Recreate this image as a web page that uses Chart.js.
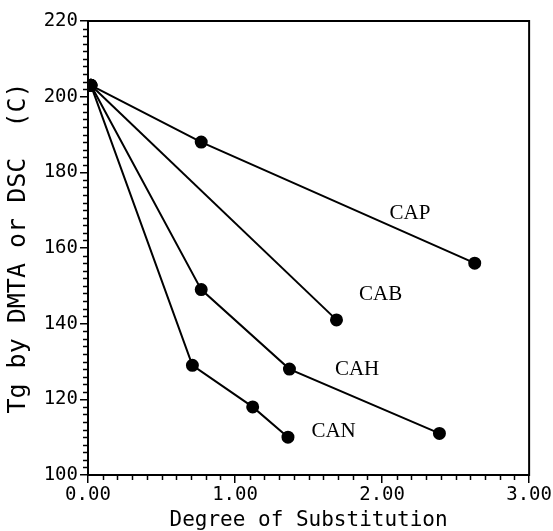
<!DOCTYPE html>
<html lang="en">
<head>
    <meta charset="UTF-8">
    <title>Tg vs Degree of Substitution</title>
    <script src="https://cdn.jsdelivr.net/npm/chart.js"></script>
    <style>
        body { margin: 0; background: #fff; }
        .chart-container { width: 553px; height: 531px; }
    </style>
</head>
<body>
    <div class="chart-container">
        <canvas id="tgChart"></canvas>
    </div>
    <script>
        // degree of substitution / Tg (C) for each ester series
        const capDS = [0.02, 0.77, 2.63];
        const capTg = [203, 188, 156];
        const cabDS = [0.02, 1.69];
        const cabTg = [203, 141];
        const cahDS = [0.02, 0.77, 1.37, 2.39];
        const cahTg = [203, 149, 128, 111];
        const canDS = [0.02, 0.71, 1.12, 1.36];
        const canTg = [203, 129, 118, 110];

        const seriesNames = ['CAP', 'CAB', 'CAH', 'CAN'];
        const labelDS = [2.19, 1.99, 1.83, 1.67];
        const labelTg = [169, 147.6, 128, 111.6];

        const toPoints = (xs, ys) => xs.map((x, i) => ({ x: x, y: ys[i] }));
        const allSeries = [[capDS, capTg], [cabDS, cabTg], [cahDS, cahTg], [canDS, canTg]];

        const datasets = allSeries.map((s, i) => ({
            label: seriesNames[i],
            data: toPoints(s[0], s[1]),
            borderColor: '#000',
            backgroundColor: '#000',
            borderWidth: 2,
            pointRadius: 5.5,
            pointHoverRadius: 5.5,
            showLine: true,
            tension: 0
        }));

        // frame, minor ticks and in-plot series labels
        const extras = {
            id: 'extras',
            afterDraw(chart) {
                const ctx = chart.ctx;
                const a = chart.chartArea;
                const xs = chart.scales.x, ys = chart.scales.y;
                ctx.save();
                ctx.strokeStyle = '#000';
                ctx.lineWidth = 2;
                ctx.strokeRect(a.left, a.top, a.right - a.left, a.bottom - a.top);
                ctx.lineWidth = 1.5;
                ctx.beginPath();
                for (let k = 1; k < 30; k++) {
                    if (k % 10 === 0) continue;
                    const px = Math.round(xs.getPixelForValue(k / 10)) + 0.5;
                    ctx.moveTo(px, a.bottom);
                    ctx.lineTo(px, a.bottom + 5);
                }
                for (let v = 102; v < 220; v += 2) {
                    if (v % 20 === 0) continue;
                    const py = Math.round(ys.getPixelForValue(v)) + 0.5;
                    ctx.moveTo(a.left, py);
                    ctx.lineTo(a.left - 5, py);
                }
                ctx.stroke();
                ctx.fillStyle = '#000';
                ctx.font = '21px "Liberation Serif", serif';
                ctx.textAlign = 'center';
                ctx.textBaseline = 'middle';
                seriesNames.forEach((name, i) => {
                    ctx.fillText(name, xs.getPixelForValue(labelDS[i]), ys.getPixelForValue(labelTg[i]));
                });
                ctx.restore();
            }
        };

        const monoFont = { family: '"DejaVu Sans Mono", monospace', size: 19 };

        new Chart(document.getElementById('tgChart'), {
            type: 'scatter',
            data: { datasets: datasets },
            options: {
                responsive: true,
                maintainAspectRatio: false,
                animation: false,
                layout: { padding: { left: 0, right: 21, top: 21, bottom: 0 } },
                plugins: { legend: { display: false }, tooltip: { enabled: false } },
                scales: {
                    x: {
                        type: 'linear', min: 0, max: 3,
                        afterFit: s => { s.height = 56; },
                        border: { display: false },
                        grid: { drawOnChartArea: false, tickLength: 8, color: '#000', lineWidth: 1.5 },
                        ticks: { stepSize: 1, color: '#000', font: monoFont, padding: 1, maxRotation: 0,
                                 callback: v => v.toFixed(2) },
                        title: { display: true, text: 'Degree of Substitution', color: '#000',
                                 font: { family: '"DejaVu Sans Mono", monospace', size: 21, lineHeight: 1 },
                                 padding: { top: 0, bottom: 0 } }
                    },
                    y: {
                        type: 'linear', min: 100, max: 220,
                        afterFit: s => { s.width = 88; },
                        border: { display: false },
                        grid: { drawOnChartArea: false, tickLength: 8, color: '#000', lineWidth: 1.5 },
                        ticks: { stepSize: 20, color: '#000', font: monoFont, padding: 2 },
                        title: { display: true, text: 'Tg by DMTA or DSC  (C)', color: '#000',
                                 font: { family: '"DejaVu Sans Mono", monospace', size: 25, lineHeight: 1 },
                                 padding: { top: 6, bottom: 0 } }
                    }
                }
            },
            plugins: [extras]
        });
    </script>
</body>
</html>
